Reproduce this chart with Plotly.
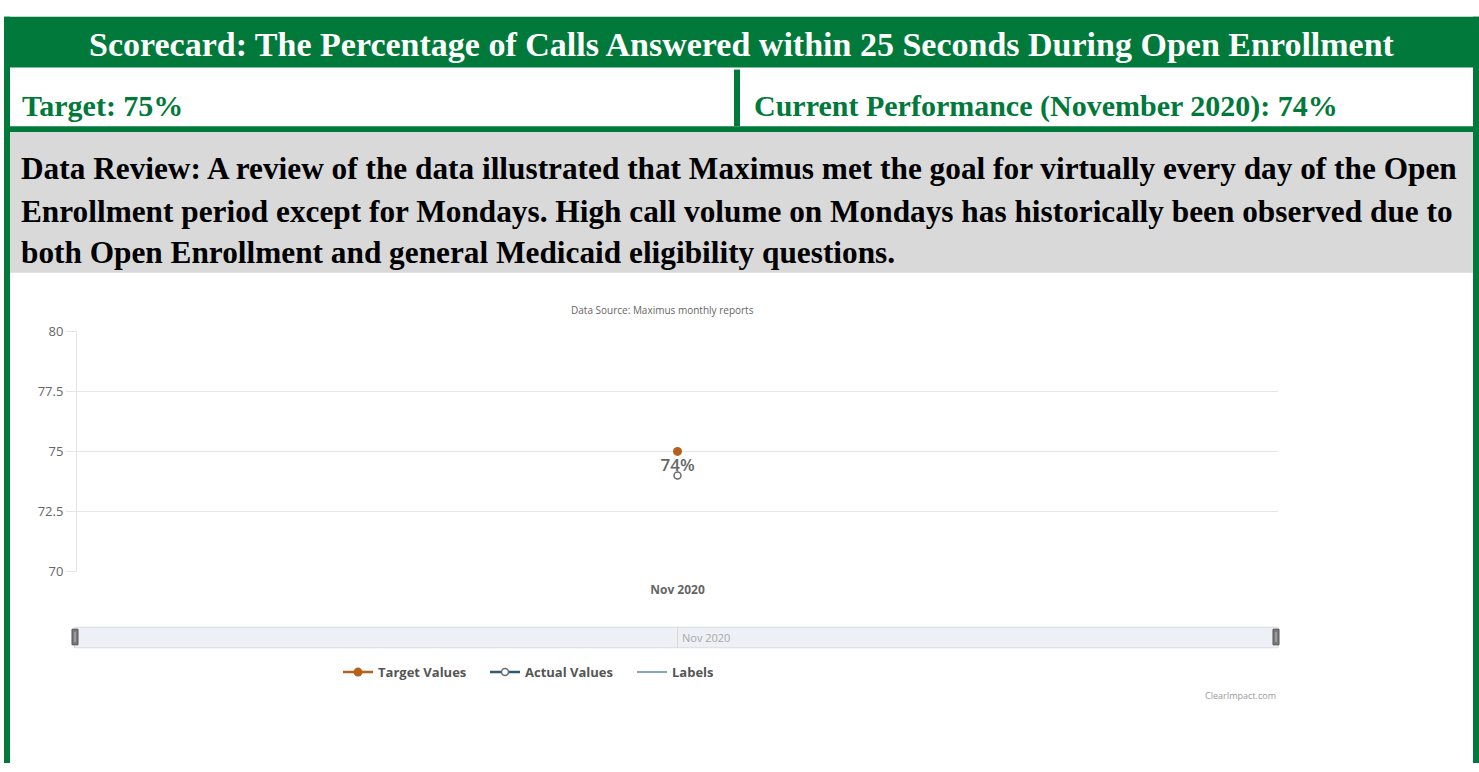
import plotly.graph_objects as go

# ---- data ----
categories = ["Nov 2020"]
target_values = [75]
actual_values = [74]
label_texts = [f"{v:g}%" for v in actual_values]
y_ticks = [70, 72.5, 75, 77.5, 80]
y_tick_labels = ["70", "72.5", "75", "77.5", "80"]

title_text = "Scorecard: The Percentage of Calls Answered within 25 Seconds During Open Enrollment"
target_text = "Target: 75%"
current_text = "Current Performance (November 2020): 74%"
review_lines = [
    "Data Review: A review of the data illustrated that Maximus met the goal for virtually every day of the Open",
    "Enrollment period except for Mondays. High call volume on Mondays has historically been observed due to",
    "both Open Enrollment and general Medicaid eligibility questions.",
]
source_text = "Data Source: Maximus monthly reports"
credit_text = "ClearImpact.com"

W, H = 1479, 772
GREEN = "#00793A"
ORANGE = "#B5601C"
BLUE = "#2B5B7B"
LBLUE = "#5B87A8"
SERIF = "Liberation Serif"
SANS = "Open Sans"


def px(x):
    return x / W


def py(y):
    return 1 - y / H


fig = go.Figure()

fig.add_trace(go.Scatter(
    x=categories, y=target_values, name="Target Values", mode="lines+markers",
    line=dict(color=ORANGE, width=2.5),
    marker=dict(color=ORANGE, size=9),
    hoverinfo="skip",
))
fig.add_trace(go.Scatter(
    x=categories, y=actual_values, name="Actual Values", mode="lines+markers",
    line=dict(color=BLUE, width=2.5),
    marker=dict(color="white", size=7, line=dict(color="#6a6a6a", width=1.5)),
    hoverinfo="skip",
))
fig.add_trace(go.Scatter(
    x=categories, y=actual_values, name="Labels", mode="lines",
    line=dict(color=LBLUE, width=1.5),
    hoverinfo="skip",
))
fig.add_trace(go.Scatter(
    x=categories, y=actual_values, mode="text", text=label_texts,
    textposition="top center",
    textfont=dict(family=SANS, size=17, color="#666666", weight=600),
    showlegend=False, hoverinfo="skip",
))
# navigator axis trace (invisible)
fig.add_trace(go.Scatter(
    x=categories, y=[0.5], xaxis="x2", yaxis="y2", mode="markers",
    marker=dict(opacity=0), showlegend=False, hoverinfo="skip",
))

shapes = []
# header band
shapes.append(dict(type="rect", xref="paper", yref="paper", x0=px(4), x1=1, y0=py(60), y1=py(8),
                   fillcolor=GREEN, line=dict(width=0), layer="below"))
# side borders
shapes.append(dict(type="rect", xref="paper", yref="paper", x0=px(4), x1=px(10), y0=0, y1=py(8),
                   fillcolor=GREEN, line=dict(width=0), layer="below"))
shapes.append(dict(type="rect", xref="paper", yref="paper", x0=px(1473), x1=1, y0=0, y1=py(8),
                   fillcolor=GREEN, line=dict(width=0), layer="below"))
# divider
shapes.append(dict(type="rect", xref="paper", yref="paper", x0=px(734), x1=px(740), y0=py(120), y1=py(62),
                   fillcolor=GREEN, line=dict(width=0), layer="below"))
# green line under row
shapes.append(dict(type="rect", xref="paper", yref="paper", x0=px(4), x1=1, y0=py(126), y1=py(120),
                   fillcolor=GREEN, line=dict(width=0), layer="below"))
# gray band
shapes.append(dict(type="rect", xref="paper", yref="paper", x0=px(10), x1=px(1473), y0=py(270), y1=py(126),
                   fillcolor="#D9D9D9", line=dict(width=0), layer="below"))
# navigator bar
shapes.append(dict(type="rect", xref="x2 domain", yref="y2 domain", x0=-0.002, x1=1, y0=0, y1=1,
                   fillcolor="#EDF0F5", line=dict(color="#D6DBE3", width=1), layer="below"))
# navigator handles
for hx in (72, 1273):
    shapes.append(dict(type="rect", xref="paper", yref="paper", x0=px(hx), x1=px(hx + 6),
                       y0=py(651), y1=py(635), fillcolor="#7A7A7A",
                       line=dict(color="#555555", width=1), layer="above"))
    shapes.append(dict(type="line", xref="paper", yref="paper", x0=px(hx + 3), x1=px(hx + 3),
                       y0=py(648), y1=py(638), line=dict(color="#BBBBBB", width=1), layer="above"))

annotations = [
    dict(text=title_text, x=px(742), y=py(36), xref="paper", yref="paper", xanchor="center",
         yanchor="middle", showarrow=False, font=dict(family=SERIF, size=34, color="white", weight="bold")),
    dict(text=target_text, x=px(20), y=py(99), xref="paper", yref="paper", xanchor="left",
         yanchor="middle", showarrow=False, font=dict(family=SERIF, size=30, color=GREEN, weight="bold")),
    dict(text=current_text, x=px(752), y=py(99), xref="paper", yref="paper", xanchor="left",
         yanchor="middle", showarrow=False, font=dict(family=SERIF, size=30, color=GREEN, weight="bold")),
    dict(text=source_text, x=px(662), y=py(308), xref="paper", yref="paper", xanchor="center",
         yanchor="middle", showarrow=False, font=dict(family=SANS, size=10, color="#666666")),
    dict(text=credit_text, x=px(1278), y=py(703), xref="paper", yref="paper", xanchor="right",
         yanchor="middle", showarrow=False, font=dict(family=SANS, size=9, color="#999999")),
    dict(text=categories[0], x=categories[0], y=0.5, xref="x2", yref="y2", xanchor="left",
         xshift=2, yanchor="middle", showarrow=False, font=dict(family=SANS, size=11, color="#A8A8A8")),
]
for yy, line in zip((163, 207, 249), review_lines):
    annotations.append(dict(text=line, x=px(19), y=py(yy), xref="paper", yref="paper", xanchor="left",
                            yanchor="middle", showarrow=False,
                            font=dict(family=SERIF, size=31.3, color="black", weight="bold")))

fig.update_layout(
    width=W, height=H,
    margin=dict(l=0, r=0, t=0, b=0),
    paper_bgcolor="white", plot_bgcolor="white",
    showlegend=True,
    legend=dict(orientation="h", x=px(338), xanchor="left", y=py(679), yanchor="middle",
                entrywidth=102, entrywidthmode="pixels",
                font=dict(family=SANS, size=13, color="#555555", weight="bold"),
                bgcolor="rgba(0,0,0,0)"),
    xaxis=dict(type="category", range=[-0.5, 0.5], domain=[px(77), px(1278)], anchor="y",
               showgrid=False, ticks="", showline=False, zeroline=False, ticklabelstandoff=9,
               tickfont=dict(family=SANS, size=12, color="#666666", weight="bold")),
    yaxis=dict(range=[70, 80], domain=[py(576), py(330)], anchor="x",
               tickvals=y_ticks, ticktext=y_tick_labels,
               showgrid=True, gridcolor="#E6E6E6", gridwidth=1.2,
               ticks="outside", ticklen=10, tickcolor="#E6E6E6",
               showline=True, linecolor="#E6E6E6", zeroline=False,
               tickfont=dict(family=SANS, size=13, color="#666666")),
    xaxis2=dict(type="category", range=[-0.5, 0.5], domain=[px(77), px(1278)], anchor="y2",
                showgrid=True, gridcolor="#D8D8D8", showticklabels=False, ticks="",
                showline=False, zeroline=False),
    yaxis2=dict(range=[0, 1], domain=[py(654), py(633)], anchor="x2", visible=False),
    shapes=shapes,
    annotations=annotations,
)

fig.write_html(
    "out.html",
    config={"displayModeBar": False},
    post_script="document.body.style.margin='0';document.body.style.overflow='hidden';",
)
